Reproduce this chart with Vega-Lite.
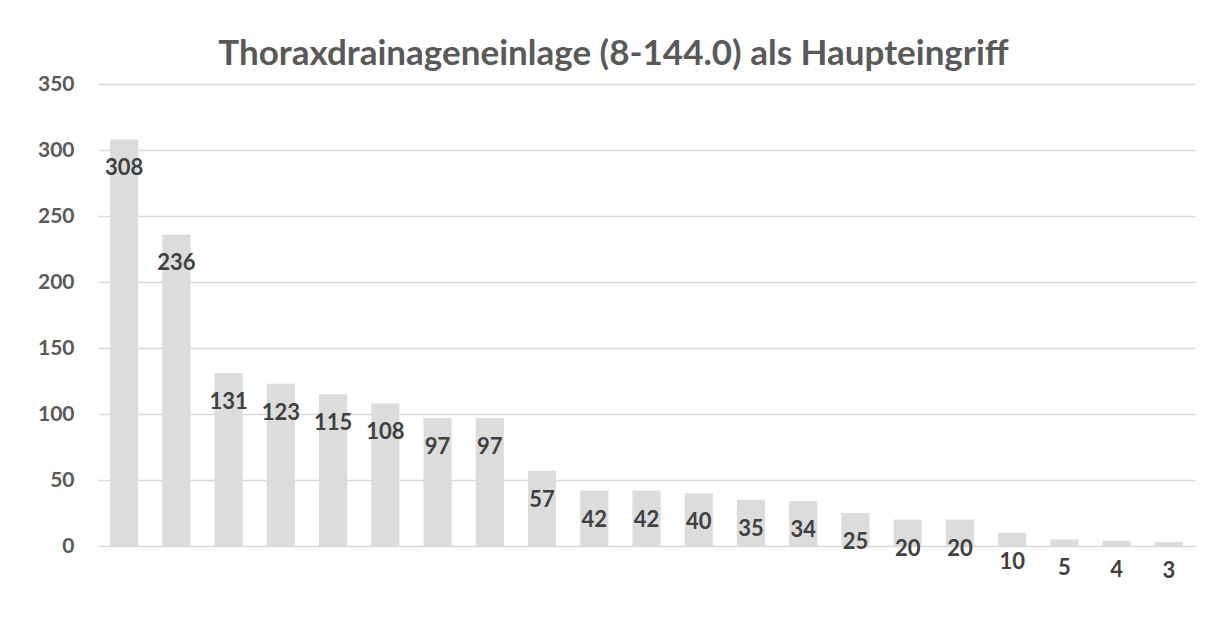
{
  "$schema": "https://vega.github.io/schema/vega-lite/v6.json",
  "width": 1097,
  "height": 462,
  "autosize": {"type": "none"},
  "padding": {"left": 98, "top": 84, "right": 17, "bottom": 91},
  "background": "white",
  "config": {"view": {"stroke": null}, "font": "Lato"},
  "title": {
    "text": "Thoraxdrainageneinlage (8-144.0) als Haupteingriff",
    "font": "Lato",
    "fontSize": 35,
    "fontWeight": "bold",
    "color": "#595959",
    "anchor": "middle",
    "baseline": "alphabetic",
    "offset": 18,
    "dy": 45,
    "dx": -33
  },
  "data": {
    "values": [
      {"id": 1, "n": 308}, {"id": 2, "n": 236}, {"id": 3, "n": 131}, {"id": 4, "n": 123},
      {"id": 5, "n": 115}, {"id": 6, "n": 108}, {"id": 7, "n": 97}, {"id": 8, "n": 97},
      {"id": 9, "n": 57}, {"id": 10, "n": 42}, {"id": 11, "n": 42}, {"id": 12, "n": 40},
      {"id": 13, "n": 35}, {"id": 14, "n": 34}, {"id": 15, "n": 25}, {"id": 16, "n": 20},
      {"id": 17, "n": 20}, {"id": 18, "n": 10}, {"id": 19, "n": 5}, {"id": 20, "n": 4},
      {"id": 21, "n": 3}
    ]
  },
  "encoding": {
    "x": {
      "field": "id",
      "type": "ordinal",
      "sort": null,
      "scale": {"paddingInner": 0.46, "paddingOuter": 0.23},
      "axis": null
    },
    "y": {
      "field": "n",
      "type": "quantitative",
      "scale": {"domain": [0, 350], "nice": false},
      "axis": {
        "values": [0, 50, 100, 150, 200, 250, 300, 350],
        "title": null,
        "domain": false,
        "ticks": false,
        "labelPadding": 24,
        "labelFont": "Lato",
        "labelFontSize": 21,
        "labelFontWeight": "bold",
        "labelColor": "#595959",
        "gridColor": "#d9d9d9",
        "gridWidth": 1.5
      }
    }
  },
  "layer": [
    {"mark": {"type": "bar", "color": "#dcdcdc"}},
    {
      "mark": {
        "type": "text",
        "baseline": "middle",
        "align": "center",
        "dy": 29,
        "font": "Lato",
        "fontSize": 22,
        "fontWeight": "bold",
        "color": "#404040"
      },
      "encoding": {"text": {"field": "n", "type": "quantitative"}}
    }
  ]
}
